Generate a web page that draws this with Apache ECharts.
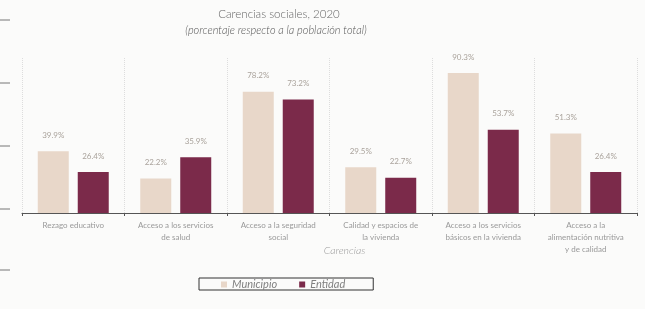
<!DOCTYPE html>
<html>
<head>
<meta charset="utf-8">
<script src="https://cdn.jsdelivr.net/npm/echarts@6/dist/echarts.min.js"></script>
<style>
  html, body { margin: 0; padding: 0; background: #fbfbfa; }
  #chart { width: 645px; height: 309px; }
</style>
</head>
<body>
<div id="chart"></div>
<script>
const categories = [
  "Rezago educativo",
  "Acceso a los servicios\nde salud",
  "Acceso a la seguridad\nsocial",
  "Calidad y espacios de\nla vivienda",
  "Acceso a los servicios\nbásicos en la vivienda",
  "Acceso a la\nalimentación nutritiva\ny de calidad"
];
const municipio = [39.9, 22.2, 78.2, 29.5, 90.3, 51.3];
const entidad = [26.4, 35.9, 73.2, 22.7, 53.7, 26.4];
const seriesNames = ["Municipio", "Entidad"];
const colors = ["#e8d7c9", "#7b2a4a"];

const chart = echarts.init(document.getElementById("chart"));

const labelStyle = {
  show: true,
  position: "top",
  distance: 12,
  color: "#aaa39c",
  fontSize: 8,
  fontFamily: "Lato",
  formatter: (p) => p.value.toFixed(1) + "%"
};

// short dashes on the left edge (cut-off neighbour chart)
const edgeDashes = [20, 83, 146, 209, 270].map((y) => ({
  type: "line",
  shape: { x1: 0, y1: y, x2: 10, y2: y },
  style: { stroke: "#777", lineWidth: 1 }
}));

const option = {
  backgroundColor: "#fbfbfa",
  animation: false,
  textStyle: { fontFamily: "Lato" },
  graphic: [
    {
      type: "text",
      x: 279, y: 14,
      style: {
        text: "Carencias sociales, 2020",
        fill: "#666", fontSize: 11.5, fontFamily: "Lato", fontWeight: 300,
        align: "center", verticalAlign: "middle"
      }
    },
    {
      type: "text",
      x: 276, y: 30,
      style: {
        text: "(porcentaje respecto a la población total)",
        fill: "#555", fontSize: 11, fontStyle: "italic", fontFamily: "Lato", fontWeight: 300,
        align: "center", verticalAlign: "middle"
      }
    },
    ...edgeDashes
  ],
  legend: {
    data: seriesNames,
    left: 199,
    top: 278,
    padding: [1, 28, 0, 22],
    borderColor: "#333",
    borderWidth: 1,
    itemWidth: 6,
    itemHeight: 6,
    itemGap: 22,
    itemTextGap: 4,
    icon: "rect",
    textStyle: { color: "#808080", fontSize: 11, fontStyle: "italic", fontFamily: "Lato" }
  },
  grid: { left: 22, right: 8, top: 58, bottom: 96 },
  xAxis: {
    type: "category",
    data: categories,
    name: "Carencias",
    nameLocation: "middle",
    nameGap: 32,
    nameMoveOverlap: false,
    nameTextStyle: {
      color: "#999", fontSize: 10.5, fontStyle: "italic", fontWeight: 300,
      padding: [0, 0, 0, 30]
    },
    axisLine: { lineStyle: { color: "#555", width: 1 } },
    axisTick: { show: true, length: 3, lineStyle: { color: "#555" } },
    axisLabel: {
      color: "#999", fontSize: 8, lineHeight: 12, margin: 6, interval: 0
    },
    splitLine: {
      show: true,
      interval: 0,
      lineStyle: { color: "#ddd", type: "dotted", width: 1 }
    }
  },
  yAxis: {
    type: "value",
    min: 0,
    max: 100,
    show: false
  },
  series: [
    {
      name: seriesNames[0],
      type: "bar",
      data: municipio,
      barWidth: 31,
      barGap: "29%",
      itemStyle: { color: colors[0] },
      label: labelStyle
    },
    {
      name: seriesNames[1],
      type: "bar",
      data: entidad,
      barWidth: 31,
      itemStyle: { color: colors[1] },
      label: labelStyle
    }
  ]
};

chart.setOption(option);
</script>
</body>
</html>
